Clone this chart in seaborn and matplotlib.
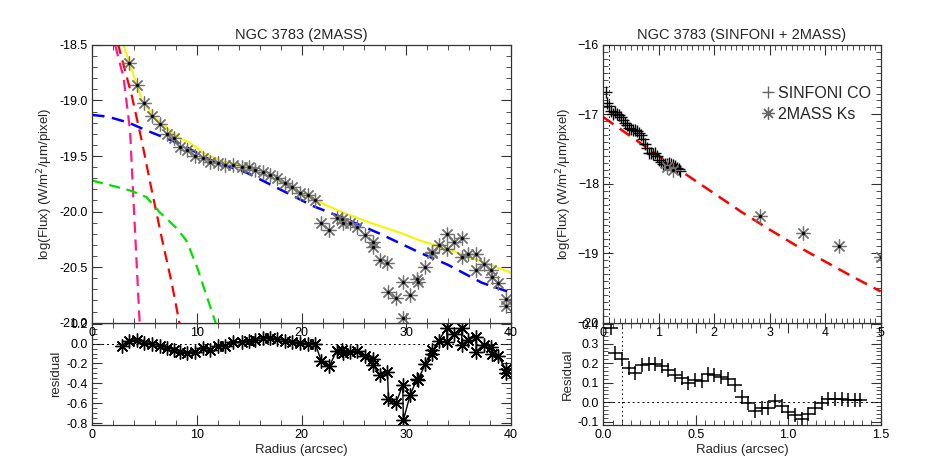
import matplotlib
matplotlib.use('Agg')
import matplotlib.pyplot as plt
from matplotlib.ticker import MultipleLocator
from matplotlib.lines import Line2D
import seaborn as sns

# ---- 2MASS profile of NGC 3783 (left panels) ----
r_2mass = [2.83, 3.50, 4.27, 5.0, 5.7, 6.45, 7.13, 7.8, 8.4, 9.1, 9.83, 10.6, 11.26, 12.0, 12.7,
           13.5, 14.3, 14.95, 15.6, 16.3, 17.0, 17.7, 18.4, 19.1, 19.85, 20.6, 21.3, 21.9, 22.65,
           23.35, 23.9, 24.0, 24.6, 25.3, 26.1, 26.8, 26.85, 27.5, 28.2, 28.3, 29.0, 29.66, 29.72,
           30.36, 31.0, 31.1, 31.8, 32.45, 32.5, 33.1, 33.86, 33.9, 34.6, 35.3, 35.3, 35.9, 36.66,
           36.66, 37.4, 38.1, 38.15, 38.8, 39.5, 39.5]
flux_2mass = [-18.42, -18.665, -18.86, -19.025, -19.14, -19.21, -19.30, -19.34, -19.415, -19.445,
              -19.50, -19.52, -19.55, -19.565, -19.58, -19.58, -19.595, -19.60, -19.625, -19.64,
              -19.67, -19.70, -19.745, -19.775, -19.835, -19.85, -19.895, -20.105, -20.17, -20.055,
              -20.07, -20.10, -20.10, -20.14, -20.21, -20.27, -20.32, -20.44, -20.46, -20.72, -20.78,
              -20.63, -20.96, -20.75, -20.61, -20.63, -20.50, -20.36, -20.37, -20.30, -20.20, -20.34,
              -20.27, -20.24, -20.41, -20.38, -20.38, -20.53, -20.47, -20.53, -20.59, -20.64, -20.79,
              -20.85]
res_2mass = [-0.02, 0.03, 0.04, 0.01, 0.00, -0.02, -0.04, -0.06, -0.08, -0.09, -0.08, -0.04, -0.06,
             -0.02, -0.02, 0.02, 0.02, 0.03, 0.04, 0.06, 0.06, 0.05, 0.03, 0.02, 0.01, 0.00, 0.00,
             -0.18, -0.23, -0.07, -0.06, -0.09, -0.08, -0.07, -0.13, -0.16, -0.22, -0.32, -0.29,
             -0.56, -0.60, -0.42, -0.77, -0.52, -0.36, -0.37, -0.21, -0.06, -0.10, 0.03, 0.16, 0.02,
             0.10, 0.16, -0.01, 0.04, 0.07, -0.08, -0.01, -0.03, -0.10, -0.13, -0.26, -0.30]

# model components
r_total = [2.8, 3.0, 3.63, 4.74, 5.86, 7.29, 8.4, 9.36, 10.6, 12.2, 14.77, 17.95, 21.1, 24.0,
           26.85, 29.4, 31.3, 34.0, 37.2, 40.0]
f_total = [-18.40, -18.5, -18.68, -18.99, -19.14, -19.26, -19.34, -19.38, -19.47, -19.54, -19.60,
           -19.73, -19.89, -20.01, -20.11, -20.19, -20.26, -20.34, -20.45, -20.55]
r_disk = [0, 1.0, 2.03, 3.5, 5.2, 8.4, 11.6, 14.77, 17.95, 21.1, 24.3, 27.5, 31.3, 34.0, 37.2, 40.0]
f_disk = [-19.13, -19.14, -19.16, -19.20, -19.27, -19.39, -19.55, -19.65, -19.80, -19.95, -20.07,
          -20.20, -20.37, -20.48, -20.64, -20.73]
r_psf = [1.8, 2.2, 3.0, 3.63, 3.94, 4.42, 4.6]
f_psf = [-18.35, -18.5, -18.79, -19.27, -19.87, -20.77, -21.1]
r_bulge = [2.0, 2.5, 3.8, 4.74, 5.7, 6.66, 7.6, 8.5]
f_bulge = [-18.33, -18.5, -18.96, -19.36, -19.81, -20.24, -20.64, -21.08]
r_bar = [0, 2.03, 3.63, 5.2, 6.5, 8.08, 9.0, 9.99, 10.94, 12.0]
f_bar = [-19.72, -19.77, -19.81, -19.87, -20.01, -20.15, -20.26, -20.49, -20.76, -21.06]

# ---- SINFONI + 2MASS (right panels) ----
r_sinf = [0.04, 0.066, 0.10, 0.137, 0.173, 0.207, 0.245, 0.28, 0.315, 0.352, 0.388, 0.424, 0.46,
          0.496, 0.532, 0.566, 0.601, 0.637, 0.672, 0.712, 0.748, 0.784, 0.82, 0.856, 0.892, 0.928,
          0.964, 1.0, 1.037, 1.073, 1.109, 1.145, 1.18, 1.217, 1.253, 1.289, 1.325, 1.361, 1.388]
flux_sinf = [-16.68, -16.83, -16.88, -16.95, -16.99, -16.97, -16.99, -17.01, -17.04, -17.08, -17.12,
             -17.16, -17.20, -17.21, -17.23, -17.22, -17.24, -17.27, -17.30, -17.35, -17.43, -17.48,
             -17.55, -17.55, -17.57, -17.56, -17.60, -17.65, -17.69, -17.72, -17.72, -17.71, -17.70,
             -17.71, -17.73, -17.75, -17.77, -17.79, -17.81]
res_sinf = [0.38, 0.25, 0.22, 0.175, 0.15, 0.19, 0.195, 0.195, 0.185, 0.165, 0.14, 0.125, 0.097,
            0.113, 0.108, 0.142, 0.137, 0.13, 0.12, 0.087, 0.027, -0.003, -0.046, -0.032, -0.032,
            0.005, -0.02, -0.05, -0.067, -0.084, -0.061, -0.032, -0.002, 0.014, 0.014, 0.014, 0.01,
            0.01, 0.01]
r_ks = [1.15, 1.25, 2.82, 3.6, 4.25, 5.0]
flux_ks = [-17.76, -17.80, -18.46, -18.71, -18.89, -19.05]
r_fit = [0.0, 0.5, 1.0, 1.5, 2.0, 2.5, 3.0, 3.5, 4.0, 4.5, 5.0]
f_fit = [-17.04, -17.32, -17.60, -17.87, -18.14, -18.41, -18.66, -18.90, -19.12, -19.34, -19.55]

sns.set_style('ticks')
plt.rcParams['font.family'] = ['Liberation Sans', 'DejaVu Sans']
plt.rcParams['font.size'] = 9
plt.rcParams['axes.linewidth'] = 0.9
plt.rcParams['axes.edgecolor'] = '#333333'

fig = plt.figure(figsize=(9.26, 4.63), dpi=100)
# bottom panels first so the tick labels of the upper panels lie over them
axlb = fig.add_axes([0.0994, 0.082, 0.4525, 0.221])
axlt = fig.add_axes([0.0994, 0.303, 0.4525, 0.600])
axrb = fig.add_axes([0.6515, 0.082, 0.2996, 0.221])
axrt = fig.add_axes([0.6515, 0.303, 0.2996, 0.600])
for ax in (axlb, axrb):
    ax.set_facecolor('none')

AST = (8, 2, 0)
dash = (0, (5, 3))

# left top
sns.lineplot(x=r_psf, y=f_psf, ax=axlt, color='#ff1a8c', linestyle=dash, lw=1.6, sort=False, estimator=None)
sns.lineplot(x=r_bulge, y=f_bulge, ax=axlt, color='#ff0000', linestyle=dash, lw=1.6, sort=False, estimator=None)
sns.lineplot(x=r_bar, y=f_bar, ax=axlt, color='#00e000', linestyle=dash, lw=1.6, sort=False, estimator=None)
sns.lineplot(x=r_disk, y=f_disk, ax=axlt, color='#0000ff', linestyle=dash, lw=1.8, sort=False, estimator=None)
sns.lineplot(x=r_total, y=f_total, ax=axlt, color='#f5f500', lw=1.5, sort=False, estimator=None)
sns.lineplot(x=r_2mass, y=flux_2mass, ax=axlt, linestyle='', marker=AST, markersize=10, color='0.45',
             markeredgecolor='0.45', markeredgewidth=0.9, sort=False, estimator=None)
sns.lineplot(x=r_2mass, y=flux_2mass, ax=axlt, linestyle='', marker='.', markersize=3, color='k',
             markeredgecolor='k', sort=False, estimator=None)
axlt.set_xlim(0, 40)
axlt.set_ylim(-21, -18.5)
axlt.xaxis.set_major_locator(MultipleLocator(10))
axlt.xaxis.set_minor_locator(MultipleLocator(2))
axlt.yaxis.set_major_locator(MultipleLocator(0.5))
axlt.yaxis.set_minor_locator(MultipleLocator(0.1))
axlt.yaxis.set_major_formatter(matplotlib.ticker.FormatStrFormatter('%.1f'))
axlt.set_ylabel('log(Flux) (W/m$^2$/\u03bcm/pixel)')
axlt.set_title('NGC 3783 (2MASS)', fontsize=10.5, pad=4)

# left bottom
sns.lineplot(x=r_2mass, y=res_2mass, ax=axlb, color='k', lw=1.0, marker=AST, markersize=10,
             markeredgecolor='k', markeredgewidth=1.0, sort=False, estimator=None)
sns.lineplot(x=r_2mass, y=res_2mass, ax=axlb, linestyle='', marker='.', markersize=4, color='k',
             markeredgecolor='k', sort=False, estimator=None)
axlb.axhline(0, color='k', lw=0.7, linestyle=(0, (2, 3)))
axlb.set_xlim(0, 40)
axlb.set_ylim(-0.82, 0.21)
axlb.xaxis.set_major_locator(MultipleLocator(10))
axlb.xaxis.set_minor_locator(MultipleLocator(2))
axlb.yaxis.set_major_locator(MultipleLocator(0.2))
axlb.yaxis.set_minor_locator(MultipleLocator(0.05))
axlb.yaxis.set_major_formatter(matplotlib.ticker.FormatStrFormatter('%.1f'))
axlb.set_xlabel('Radius (arcsec)')
axlb.set_ylabel('residual')

# right top
sns.lineplot(x=r_fit, y=f_fit, ax=axrt, color='#ff0000', linestyle=dash, lw=1.8, sort=False, estimator=None)
sns.lineplot(x=r_sinf, y=flux_sinf, ax=axrt, linestyle='', marker='+', markersize=9, color='k',
             markeredgecolor='k', markeredgewidth=1.0, sort=False, estimator=None)
sns.lineplot(x=r_ks, y=flux_ks, ax=axrt, linestyle='', marker=AST, markersize=10, color='0.45',
             markeredgecolor='0.45', markeredgewidth=0.9, sort=False, estimator=None)
sns.lineplot(x=r_ks, y=flux_ks, ax=axrt, linestyle='', marker='.', markersize=3, color='k',
             markeredgecolor='k', sort=False, estimator=None)
axrt.axvline(0.1, color='k', lw=0.7, linestyle=(0, (1.5, 3)))
axrt.set_xlim(0, 5)
axrt.set_ylim(-20, -16)
axrt.xaxis.set_major_locator(MultipleLocator(1))
axrt.xaxis.set_minor_locator(MultipleLocator(0.1))
axrt.yaxis.set_major_locator(MultipleLocator(1))
axrt.yaxis.set_minor_locator(MultipleLocator(0.1))
axrt.set_ylabel('log(Flux) (W/m$^2$/\u03bcm/pixel)')
axrt.set_title('NGC 3783 (SINFONI + 2MASS)', fontsize=10.5, pad=4)
handles = [Line2D([], [], linestyle='', marker='+', markersize=9, color='0.4', markeredgewidth=1.0),
           Line2D([], [], linestyle='', marker=AST, markersize=9, color='0.4', markeredgewidth=0.9)]
axrt.legend(handles, ['SINFONI CO', '2MASS Ks'], loc='upper left', bbox_to_anchor=(0.52, 0.905),
            frameon=False, fontsize=11.5, handlelength=0.8, handletextpad=0.2, labelspacing=0.4)

# right bottom
sns.lineplot(x=r_sinf, y=res_sinf, ax=axrb, linestyle='', marker='+', markersize=10, color='k',
             markeredgecolor='k', markeredgewidth=1.1, sort=False, estimator=None)
axrb.axhline(0, color='k', lw=0.7, linestyle=(0, (2, 3)))
axrb.axvline(0.1, color='k', lw=0.7, linestyle=(0, (1.5, 3)))
axrb.set_xlim(0, 1.5)
axrb.set_ylim(-0.117, 0.407)
axrb.xaxis.set_major_locator(MultipleLocator(0.5))
axrb.xaxis.set_minor_locator(MultipleLocator(0.05))
axrb.yaxis.set_major_locator(MultipleLocator(0.1))
axrb.yaxis.set_minor_locator(MultipleLocator(0.02))
axrb.yaxis.set_major_formatter(matplotlib.ticker.FormatStrFormatter('%.1f'))
axrb.set_xlabel('Radius (arcsec)')
axrb.set_ylabel('Residual')

for ax in (axlt, axlb, axrt, axrb):
    ax.tick_params(which='both', direction='in', top=True, right=True, colors='#333333',
                   labelcolor='k', labelsize=9, pad=3)
    ax.tick_params(which='major', length=7, width=0.8)
    ax.tick_params(which='minor', length=3.5, width=0.6)
    ax.xaxis.label.set_size(9.5)
    ax.yaxis.label.set_size(9.5)
    ax.yaxis.labelpad = 3
    ax.xaxis.labelpad = 2

fig.savefig('out.png', dpi=100)
